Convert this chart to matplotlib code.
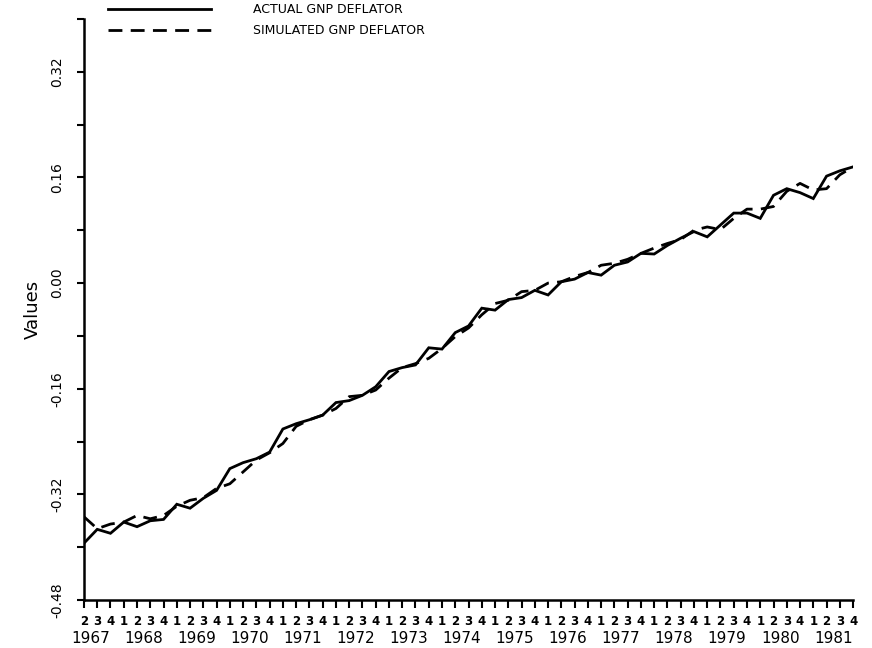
import matplotlib
matplotlib.use("Agg")
from matplotlib import pyplot as plt
import numpy as np

# quarters 1967Q2 .. 1981Q4
years = list(range(1967, 1982))
quarter_labels = ["2", "3", "4"] + ["1", "2", "3", "4"] * 14

actual = [
    -0.394, -0.373, -0.379, -0.362, -0.369, -0.360, -0.358, -0.335, -0.341, -0.326,
    -0.314, -0.281, -0.272, -0.266, -0.256, -0.221, -0.213, -0.207, -0.200, -0.181,
    -0.178, -0.170, -0.157, -0.134, -0.128, -0.124, -0.098, -0.100, -0.075, -0.065,
    -0.038, -0.041, -0.025, -0.022, -0.011, -0.018, 0.002, 0.006, 0.016, 0.012,
    0.027, 0.032, 0.045, 0.044, 0.057, 0.068, 0.078, 0.070, 0.088, 0.106,
    0.106, 0.098, 0.133, 0.143, 0.137, 0.128, 0.162, 0.170, 0.176,
]
simulated = [
    -0.354, -0.372, -0.365, -0.362, -0.352, -0.357, -0.352, -0.338, -0.329, -0.325,
    -0.311, -0.304, -0.286, -0.268, -0.257, -0.243, -0.217, -0.207, -0.200, -0.190,
    -0.172, -0.170, -0.162, -0.144, -0.128, -0.122, -0.114, -0.099, -0.081, -0.068,
    -0.048, -0.031, -0.026, -0.013, -0.011, 0.000, 0.002, 0.010, 0.016, 0.027,
    0.030, 0.036, 0.045, 0.053, 0.060, 0.066, 0.080, 0.085, 0.081, 0.098,
    0.112, 0.112, 0.116, 0.139, 0.151, 0.141, 0.143, 0.164, 0.176,
]

y_major = [-0.48, -0.32, -0.16, 0.00, 0.16, 0.32]
y_minor = [-0.40, -0.24, -0.08, 0.08, 0.24, 0.40]

fig = plt.figure(figsize=(8.72, 6.48), dpi=100)
ax = fig.add_axes([0.0963, 0.0741, 0.8820, 0.8966])

x = np.arange(len(actual))
ax.plot(x, actual, color="black", lw=2.0, solid_joinstyle="miter",
        label="ACTUAL GNP DEFLATOR")
ax.plot(x, simulated, color="black", lw=2.0, linestyle=(0, (5, 3)),
        label="SIMULATED GNP DEFLATOR")

ax.set_xlim(0, len(actual) - 1)
ax.set_ylim(-0.48, 0.40)

for s in ["top", "right"]:
    ax.spines[s].set_visible(False)
for s in ["left", "bottom"]:
    ax.spines[s].set_linewidth(1.8)

# x: quarter ticks, year labels as minor ticks under them
ax.set_xticks(x)
ax.set_xticklabels(quarter_labels, fontsize=8.5, fontweight="bold")
year_pos = [(yr - 1967) * 4 + 0.5 for yr in years]
ax.set_xticks(year_pos, minor=True)
ax.set_xticklabels([str(yr) for yr in years], minor=True, fontsize=11)
ax.tick_params(axis="x", which="major", direction="out", length=6, width=1.5, pad=5)
ax.tick_params(axis="x", which="minor", length=0, pad=22)

# y
ax.set_yticks(y_major)
ax.set_yticklabels(["%.2f" % v for v in y_major], rotation=90, va="center",
                   fontsize=10)
ax.set_yticks(y_minor, minor=True)
ax.tick_params(axis="y", which="both", direction="out", length=5, width=1.5, pad=9)
ax.set_ylabel("Values", fontsize=13, labelpad=6)

ax.legend(loc="upper left", bbox_to_anchor=(0.124, 0.995),
          bbox_transform=fig.transFigure, frameon=False, fontsize=9,
          handlelength=8.2, handletextpad=3.4, labelspacing=0.65,
          borderpad=0, borderaxespad=0)

fig.savefig("out.png", dpi=100)
